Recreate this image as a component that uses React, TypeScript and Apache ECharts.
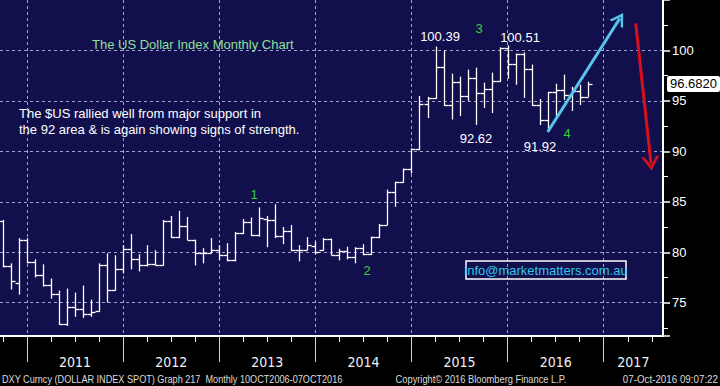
import React, { useEffect, useRef } from 'react';
import * as echarts from 'echarts';

// ---- data (monthly DXY bars, plotted at month end; Dec-2010 end = 0) ----
const months = [
  '2010-09', '2010-10', '2010-11', '2010-12',
  '2011-01', '2011-02', '2011-03', '2011-04', '2011-05', '2011-06', '2011-07', '2011-08', '2011-09', '2011-10', '2011-11', '2011-12',
  '2012-01', '2012-02', '2012-03', '2012-04', '2012-05', '2012-06', '2012-07', '2012-08', '2012-09', '2012-10', '2012-11', '2012-12',
  '2013-01', '2013-02', '2013-03', '2013-04', '2013-05', '2013-06', '2013-07', '2013-08', '2013-09', '2013-10', '2013-11', '2013-12',
  '2014-01', '2014-02', '2014-03', '2014-04', '2014-05', '2014-06', '2014-07', '2014-08', '2014-09', '2014-10', '2014-11', '2014-12',
  '2015-01', '2015-02', '2015-03', '2015-04', '2015-05', '2015-06', '2015-07', '2015-08', '2015-09', '2015-10', '2015-11', '2015-12',
  '2016-01', '2016-02', '2016-03', '2016-04', '2016-05', '2016-06', '2016-07', '2016-08', '2016-09', '2016-10',
];
const openP = [
  83.1, 78.6, 77.0, 81.2,
  79.0, 77.7, 76.8, 75.9, 72.9, 74.6, 74.4, 73.9, 74.2, 78.7, 76.3, 78.3,
  80.3, 79.35, 78.75, 78.85, 78.75, 83.1, 81.55, 82.6, 81.2, 79.9, 79.9, 80.2,
  79.7, 79.2, 81.9, 82.95, 81.7, 83.3, 83.15, 81.6, 82.15, 80.2, 80.25, 80.65,
  80.2, 81.35, 79.75, 80.15, 79.5, 80.4, 79.8, 81.5, 82.75, 86.0, 86.95, 88.3,
  90.25, 94.7, 95.25, 98.35, 94.6, 96.9, 95.5, 97.3, 95.8, 96.2, 97.0, 100.2,
  98.7, 99.6, 98.2, 94.6, 93.1, 95.9, 96.1, 95.6, 96.0, 95.4,
];
const highP = [
  83.2, 78.9, 81.4, 81.4,
  79.3, 78.8, 77.4, 76.2, 76.4, 76.0, 76.7, 75.3, 78.9, 79.9, 79.7, 80.7,
  81.8, 79.8, 80.7, 80.2, 83.2, 83.6, 84.1, 83.5, 81.25, 80.4, 81.4, 80.7,
  80.9, 82.0, 83.3, 83.45, 84.45, 83.6, 84.75, 82.5, 82.7, 80.7, 81.5, 81.06,
  81.4, 81.35, 80.35, 80.55, 80.5, 80.8, 81.55, 82.8, 86.2, 87.0, 88.3, 90.3,
  95.5, 95.4, 100.39, 100.0, 97.7, 97.4, 98.1, 98.3, 96.8, 97.8, 100.3, 100.51,
  99.7, 99.8, 98.6, 95.2, 95.9, 96.7, 97.6, 96.4, 96.6, 96.9,
];
const lowP = [
  78.5, 76.3, 75.8, 78.9,
  77.5, 76.6, 75.4, 72.8, 72.7, 73.6, 73.5, 73.6, 74.1, 75.0, 76.2, 77.9,
  78.3, 78.1, 78.6, 78.7, 78.7, 81.4, 81.4, 81.2, 78.7, 78.9, 79.9, 79.25,
  79.1, 79.1, 81.8, 81.6, 81.55, 80.5, 81.4, 80.8, 80.1, 79.1, 80.2, 79.8,
  80.15, 79.7, 79.2, 79.3, 78.9, 79.7, 79.75, 81.4, 82.7, 84.5, 86.9, 87.8,
  90.1, 93.3, 95.2, 94.5, 93.15, 93.5, 95.0, 92.62, 94.3, 93.8, 96.9, 97.2,
  96.6, 95.3, 94.5, 92.6, 91.92, 93.4, 95.1, 94.0, 94.6, 95.4,
];
const closeP = [
  78.6, 77.2, 81.2, 79.0,
  77.7, 76.8, 75.9, 72.9, 74.6, 74.4, 73.9, 74.1, 78.7, 76.3, 78.3, 80.3,
  79.35, 78.75, 78.85, 78.75, 83.1, 81.55, 82.6, 81.2, 79.9, 79.9, 80.2, 79.7,
  79.2, 81.9, 82.95, 81.7, 83.35, 83.15, 81.6, 82.15, 80.2, 80.25, 80.7, 80.0,
  81.35, 79.75, 80.15, 79.5, 80.4, 79.8, 81.5, 82.75, 86.0, 86.95, 88.3, 90.25,
  94.7, 95.25, 98.35, 94.6, 96.9, 95.5, 97.3, 95.8, 96.2, 97.0, 100.2, 98.7,
  99.6, 98.2, 94.6, 93.1, 95.9, 96.1, 95.6, 96.0, 95.4, 96.682,
];
const lastPrice = 96.682;

const yearLabels = ['2011', '2012', '2013', '2014', '2015', '2016', '2017'];
const yearLabelPos = [6, 18, 30, 42, 54, 66, 75.7];
const yearBoundaries = [0, 12, 24, 36, 48, 60, 72];
const quarterTicks = [-3, 3, 6, 9, 15, 18, 21, 27, 30, 33, 39, 42, 45, 51, 54, 57, 63, 66, 69, 75, 78];

// annotation arrows in (month index, value)
const cyanArrow = [[65, 91.92], [74.0, 103.16]];
const redArrow = [[76.0, 102.67], [77.9, 88.8]];

const FONT = '"Liberation Sans", Arial, sans-serif';
const NARROW = '"Liberation Sans Narrow", "DejaVu Sans Condensed", "Liberation Sans", sans-serif';
const CHEVRON = 'path://M0,12 L7,0 L14,12 L11.6,12 L7,4.4 L2.4,12 Z';

function monthIndex(s: string) {
  const [y, m] = s.split('-').map(Number);
  return (y - 2010) * 12 + m - 12;
}

function txt(text: string, x: number, y: number, color: string, size: number, align = 'left', scaleX = 1) {
  return {
    type: 'text',
    x,
    y,
    scaleX,
    silent: true,
    z: 100,
    style: {
      text,
      fill: color,
      font: `${size}px "Liberation Sans", Arial, sans-serif`,
      align,
      verticalAlign: 'middle',
      textAlign: align,
      textVerticalAlign: 'middle',
    },
  };
}

export default function App() {
  const ref = useRef<HTMLDivElement>(null);

  useEffect(() => {
    const chart = echarts.init(ref.current!, null, { renderer: 'svg' });
    const bars = months.map((mo, i) => [monthIndex(mo), openP[i], highP[i], lowP[i], closeP[i]]);
    const gridColor = '#a2a2d2';

    const option: any = {
      animation: false,
      backgroundColor: '#000000',
      grid: {
        left: 0,
        right: 57,
        top: 0,
        bottom: 50,
        show: true,
        backgroundColor: '#120f4d',
        borderWidth: 0,
      },
      xAxis: [
        {
          type: 'value',
          min: -3.37,
          max: 79.4,
          position: 'bottom',
          axisLine: { show: true, onZero: false, lineStyle: { color: '#ffffff', width: 2 } },
          axisTick: { show: true, customValues: yearBoundaries, length: 26, lineStyle: { color: '#cfcfcf', width: 1 } },
          axisLabel: {
            show: true,
            customValues: yearLabelPos,
            formatter: (v: number) => {
              const i = yearLabelPos.indexOf(v);
              return i >= 0 ? yearLabels[i] : '';
            },
            color: '#f0f0f0',
            fontSize: 14,
            fontFamily: NARROW,
            margin: 19,
          },
          splitLine: { show: true, lineStyle: { color: gridColor, width: 1, type: [3, 3] } },
        },
        {
          type: 'value',
          min: -3.37,
          max: 79.4,
          position: 'bottom',
          axisLine: { show: false, onZero: false },
          axisTick: { show: true, customValues: quarterTicks, length: 6, lineStyle: { color: '#ffffff', width: 1 } },
          axisLabel: { show: false },
          splitLine: { show: false },
        },
      ],
      yAxis: {
        type: 'value',
        position: 'right',
        min: 71.7,
        max: 105,
        splitNumber: 5,
        axisLine: { show: true, onZero: false, lineStyle: { color: '#ffffff', width: 2 } },
        axisTick: { show: true, length: 7, lineStyle: { color: '#ffffff', width: 1.5 } },
        minorTick: { show: true, splitNumber: 2, length: 5, lineStyle: { color: '#ffffff', width: 1 } },
        minorSplitLine: { show: false },
        axisLabel: {
          color: '#ffffff',
          fontSize: 13,
          fontFamily: FONT,
          margin: 9,
          formatter: (v: number) => (v >= 75 && v <= 100 && Math.abs(v % 5) < 1e-6 ? String(v) : ''),
        },
        splitLine: { show: true, showMinLine: false, showMaxLine: false, lineStyle: { color: gridColor, width: 1, type: [3, 3] } },
      },
      series: [
        {
          type: 'custom',
          xAxisIndex: 0,
          yAxisIndex: 0,
          clip: true,
          encode: { x: 0, y: [1, 2, 3, 4] },
          data: bars,
          renderItem: (params: any, api: any) => {
            const x = api.value(0);
            const pH = api.coord([x, api.value(2)]);
            const pL = api.coord([x, api.value(3)]);
            const pO = api.coord([x, api.value(1)]);
            const pC = api.coord([x, api.value(4)]);
            const w = Math.round(api.size([1, 0])[0] * 0.45);
            const X = Math.round(pH[0]) + 0.5;
            const st = { stroke: '#ffffff', lineWidth: 1.3 };
            const yO = Math.round(pO[1]) + 0.5;
            const yC = Math.round(pC[1]) + 0.5;
            return {
              type: 'group',
              children: [
                { type: 'line', shape: { x1: X, y1: pH[1], x2: X, y2: pL[1] }, style: st },
                { type: 'line', shape: { x1: X - w, y1: yO, x2: X, y2: yO }, style: st },
                { type: 'line', shape: { x1: X, y1: yC, x2: X + w, y2: yC }, style: st },
              ],
            };
          },
          markLine: {
            silent: true,
            animation: false,
            symbol: 'none',
            label: { show: false },
            data: [
              [
                { coord: cyanArrow[0], symbol: 'none', lineStyle: { color: '#58c6ea', width: 3, type: 'solid', opacity: 1 } },
                { coord: cyanArrow[1], symbol: CHEVRON, symbolSize: [16, 13] },
              ],
              [
                { coord: redArrow[0], symbol: 'none', lineStyle: { color: '#d8101e', width: 3, type: 'solid', opacity: 1 } },
                { coord: redArrow[1], symbol: CHEVRON, symbolSize: [18, 14] },
              ],
            ],
          },
        },
        {
          type: 'line',
          xAxisIndex: 0,
          yAxisIndex: 0,
          data: bars.map((b) => [b[0], b[4]]),
          showSymbol: false,
          symbol: 'none',
          silent: true,
          lineStyle: { width: 0, color: 'rgba(0,0,0,0)' },
          z: 1,
          markLine: {
            silent: true,
            animation: false,
            symbol: 'none',
            lineStyle: { color: 'rgba(0,0,0,0)', width: 1, type: 'solid' },
            data: [{ yAxis: lastPrice }],
            label: {
              show: true,
              position: 'end',
              distance: 4,
              formatter: () => lastPrice.toFixed(4),
              color: '#000000',
              backgroundColor: '#ffffff',
              fontSize: 13,
              fontFamily: FONT,
              padding: [2, 3, 1, 3],
              borderRadius: 2,
            },
          },
        },
      ],
      graphic: {
        elements: [
          txt('The US Dollar Index Monthly Chart', 92, 44, '#8ee096', 13),
          txt('The $US rallied well from major support in', 19, 113, '#ffffff', 13),
          txt('the 92 area & is again showing signs of strength.', 19, 129, '#ffffff', 13),
          txt('100.39', 440, 36, '#ffffff', 13, 'center'),
          txt('100.51', 520, 37, '#ffffff', 13, 'center'),
          txt('92.62', 476, 138, '#ffffff', 13, 'center'),
          txt('91.92', 540, 146, '#ffffff', 13, 'center'),
          txt('1', 254, 194, '#36d23a', 13, 'center'),
          txt('2', 367, 270, '#36d23a', 13, 'center'),
          txt('3', 479, 28, '#36d23a', 13, 'center'),
          txt('4', 567, 133, '#36d23a', 13, 'center'),
          {
            type: 'rect',
            z: 100,
            silent: true,
            shape: { x: 466, y: 261, width: 160, height: 18 },
            style: { fill: 'none', stroke: '#ffffff', lineWidth: 1.5 },
          },
          txt('info@marketmatters.com.au', 546, 270.5, '#33c6ee', 13, 'center'),
          txt('DXY Curncy (DOLLAR INDEX SPOT) Graph 217  Monthly 10OCT2006-07OCT2016', 2, 379, '#dcdcdc', 11, 'left', 0.83),
          txt('Copyright\u00a9 2016 Bloomberg Finance L.P.', 481, 379, '#dcdcdc', 11, 'center', 0.845),
          txt('07-Oct-2016 09:07:22', 718, 379, '#dcdcdc', 11, 'right', 0.89),
        ],
      },
    };

    chart.setOption(option);
    return () => chart.dispose();
  }, []);

  return (
    <div
      ref={ref}
      style={{ position: 'fixed', left: 0, top: 0, width: 720, height: 386, background: '#000' }}
    />
  );
}
